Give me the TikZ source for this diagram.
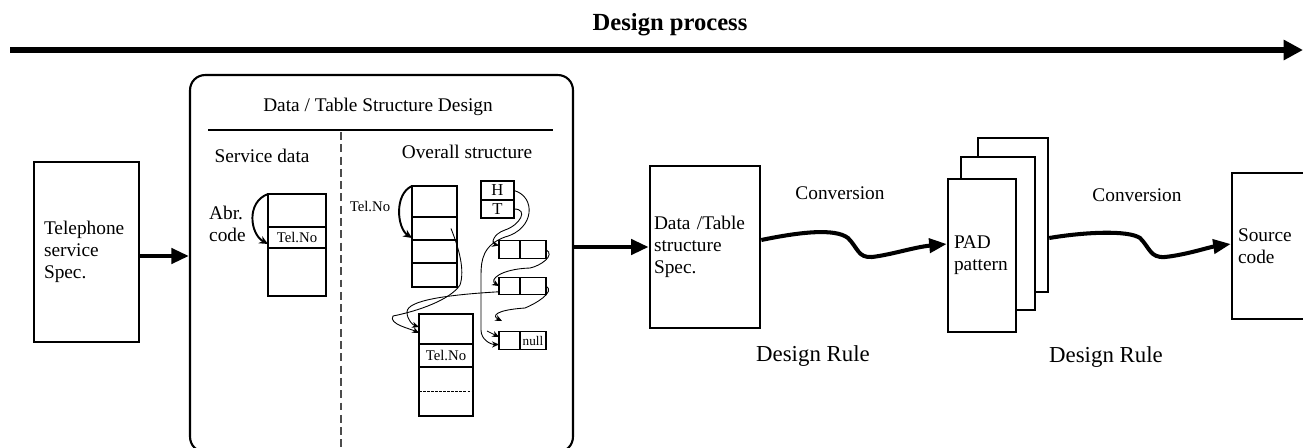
\documentclass[tikz,border=0pt]{standalone}
\usepackage{fontspec}
\setmainfont{Liberation Serif}
\usetikzlibrary{arrows.meta,positioning}

\begin{document}
\begin{tikzpicture}[x=0.02cm,y=-0.02cm,
    every node/.style={font=\fontsize{11}{12.5}\selectfont},
    specbox/.style={draw,line width=1.5pt,fill=white,align=left,inner ysep=0pt},
    padbox/.style={draw,line width=1.4pt,fill=white,minimum width=#1,minimum height=3.06cm},
    flow/.style={line width=2.8pt,-{Triangle[length=10pt,width=8.5pt]}},
    wave/.style={line width=2.3pt,-{Triangle[length=10pt,width=8pt]}},
    cell/.style={draw,outer sep=0pt,inner sep=0pt,font=\fontsize{8.4}{9}\selectfont},
    sdcell/.style={cell,line width=1.1pt,minimum width=1.16cm},
    ovcell/.style={cell,line width=0.6pt,minimum width=0.9cm},
    recell/.style={cell,line width=1.1pt,minimum width=1.08cm},
    lcell/.style={cell,line width=0.6pt,minimum height=0.35cm},
    link/.style={line width=0.5pt,-{Stealth[length=4pt,width=3.5pt]}},
    ptr/.style={line width=1.1pt,-{Stealth[length=5pt,width=4.5pt]}}]
    \useasboundingbox (0,0) rectangle (1303,447);
    \clip (0,0) rectangle (1303,447);

    % Design process arrow
    \coordinate (procstart) at (10,50);
    \coordinate (procend) at (1303,50);
    \draw[line width=3.4pt,-{Triangle[length=11pt,width=11pt]}] (procstart) -- (procend);
    \node[font=\bfseries\fontsize{14}{16}\selectfont] (proc) at (670,25) {Design process};

    % Telephone service spec
    \node[specbox,minimum width=2.1cm,minimum height=3.6cm,text width=1.7cm,inner xsep=0.2cm] (tel) at (86.5,252) {Telephone\\service\\Spec.};

    % Data / Table structure design
    \node[draw,line width=1.2pt,rounded corners=0.3cm,minimum width=7.66cm,minimum height=7.54cm] (dsgn) at (381.5,263.5) {};
    \node (dsgntitle) at (378,107) {Data / Table Structure Design};
    \draw[line width=1.1pt] (208,130) -- (553,130);
    \draw[dash pattern=on 4.5pt off 2.5pt,line width=0.6pt,black!70] (341,132) -- (341,450);
    \node (svc) at (262,156) {Service data};
    \node (ovr) at (467,152) {Overall structure};

    % Service data table
    \node[sdcell,minimum height=0.66cm,anchor=north] (sd1) at (297,194) {};
    \node[sdcell,minimum height=0.42cm,below=0pt of sd1] (sd2) {Tel.No};
    \node[sdcell,minimum height=0.96cm,below=0pt of sd2] (sd3) {};
    \node[align=left,anchor=west] (abr) at (203,224) {Abr.\\code};
    \draw[ptr] (sd1.north west) .. controls +(-22,8) and +(-18,-10) .. ([yshift=0.08cm]sd2.south west);

    % Overall structure tables
    \node[ovcell,minimum height=0.62cm,anchor=north] (ov1) at (434.5,186) {};
    \node[ovcell,minimum height=0.46cm,below=0pt of ov1] (ov2) {};
    \node[ovcell,minimum height=0.46cm,below=0pt of ov2] (ov3) {};
    \node[ovcell,minimum height=0.48cm,below=0pt of ov3] (ov4) {};
    \draw[line width=1.1pt] (ov3.north west) -- (ov3.north east);
    \node[font=\fontsize{8.4}{9}\selectfont] (telno) at (370,206) {Tel.No};
    \draw[ptr] (ov1.north west) .. controls +(-18,8) and +(-15,-10) .. ([yshift=0.04cm]ov2.south west);

    \node[recell,minimum height=0.6cm,anchor=north] (re1) at (446,314) {};
    \node[recell,minimum height=0.46cm,below=0pt of re1] (re2) {Tel.No};
    \node[recell,minimum height=0.98cm,below=0pt of re2] (re3) {};
    \draw[line width=0.6pt,dash pattern=on 1.5pt off 0.8pt] (re3.west) -- (re3.east);

    % Head / tail and list cells
    \node[cell,line width=0.6pt,minimum width=0.66cm,minimum height=0.38cm,anchor=north,font=\fontsize{9.5}{10}\selectfont] (ht1) at (497.5,181) {H};
    \node[cell,line width=0.6pt,minimum width=0.66cm,minimum height=0.36cm,below=0pt of ht1,font=\fontsize{9.5}{10}\selectfont] (ht2) {T};
    \node[lcell,minimum width=0.42cm] (l1a) at (509.5,249.5) {};
    \node[lcell,minimum width=0.52cm,right=0pt of l1a] (l1b) {};
    \node[lcell,minimum width=0.42cm] (l2a) at (509.5,286) {};
    \node[lcell,minimum width=0.52cm,right=0pt of l2a] (l2b) {};
    \node[lcell,minimum width=0.42cm] (nla) at (509.5,340.5) {};
    \node[lcell,minimum width=0.52cm,right=0pt of nla,font=\fontsize{7.5}{8}\selectfont] (nlb) {null};
    \coordinate (dangle) at (502,321);
    \coordinate (stub) at (487,331);

    \draw[link] (ht1.east) .. controls +(22,6) and +(30,-8) .. (505,237)
        .. controls +(-22,8) and +(0,-15) .. (481,275) -- (481,330)
        .. controls +(0,10) and +(-8,0) .. ([yshift=-0.08cm]nla.west);
    \draw[link] (ht2.east) .. controls +(15,0) and +(15,-5) .. (505,230)
        .. controls +(-12,4) and +(-8,-2) .. ([yshift=0.08cm]l1a.west);
    \draw[link] (l1b.east) .. controls +(10,6) and +(10,-2) .. (530,268)
        .. controls +(-30,1) and +(-10,-6) .. (l2a.west);
    \draw[link] (l2b.east) .. controls +(10,6) and +(10,-4) .. (525,308)
        .. controls +(-30,2) and +(-10,-5) .. (dangle);
    \draw[link] (stub) -- ([yshift=0.07cm]nla.west);
    \draw[link] ([xshift=-0.12cm]ov2.east) .. controls +(8,20) and +(5,-15) .. (460,285)
        .. controls +(-10,15) and +(25,-5) .. (393,316)
        .. controls +(-5,8) and +(-8,-4) .. ([yshift=-0.08cm]re1.west);
    \draw[link] ([yshift=0.06cm]l2a.south west) .. controls +(-50,3) and +(0,-12) .. (407,312)
        .. controls +(0,8) and +(-6,-2) .. ([yshift=0.04cm]re1.west);

    % Data / Table structure spec
    \node[specbox,minimum width=2.2cm,minimum height=3.24cm,text width=2.04cm,inner xsep=0.08cm] (dts) at (705,247) {Data /Table\\structure\\Spec.};

    % PAD patterns
    \node[padbox=1.4cm,minimum height=3.08cm] (padback) at (1013,215) {};
    \node[padbox=1.48cm] (padmid) at (998,233.5) {};
    \node[padbox=1.36cm,align=left,text width=1.12cm,inner xsep=0.12cm] (pad) at (982,255.5) {PAD\\pattern};

    % Source code
    \node[specbox,line width=1.4pt,minimum width=1.76cm,minimum height=2.92cm,text width=1.52cm,inner xsep=0.12cm] (src) at (1276,246) {Source\\code};

    % Connectors
    \draw[flow] ([yshift=-0.08cm]tel.east) -- ([yshift=-0.08cm]tel.east -| dsgn.west);
    \draw[flow] (dsgn.east |- dts.west) -- (dts.west);
    \draw[wave] ([yshift=0.14cm]dts.east) .. controls (800,232) and (835,228) .. (848,238)
        .. controls (858,248) and (858,258) .. (872,257)
        .. controls (890,255) and (915,247) .. ([yshift=0.23cm]pad.west);
    \draw[wave] ([yshift=-0.46cm]padback.east) .. controls (1085,232) and (1128,230) .. (1140,238)
        .. controls (1150,248) and (1150,258) .. (1165,257)
        .. controls (1185,255) and (1210,247) .. ([yshift=0.04cm]src.west);

    % Labels
    \node (conv1) at (840,193) {Conversion};
    \node (conv2) at (1137,195) {Conversion};
    \node[font=\fontsize{13}{15}\selectfont] (rule1) at (813,356) {Design Rule};
    \node[font=\fontsize{13}{15}\selectfont] (rule2) at (1106,357) {Design Rule};
\end{tikzpicture}
\end{document}
